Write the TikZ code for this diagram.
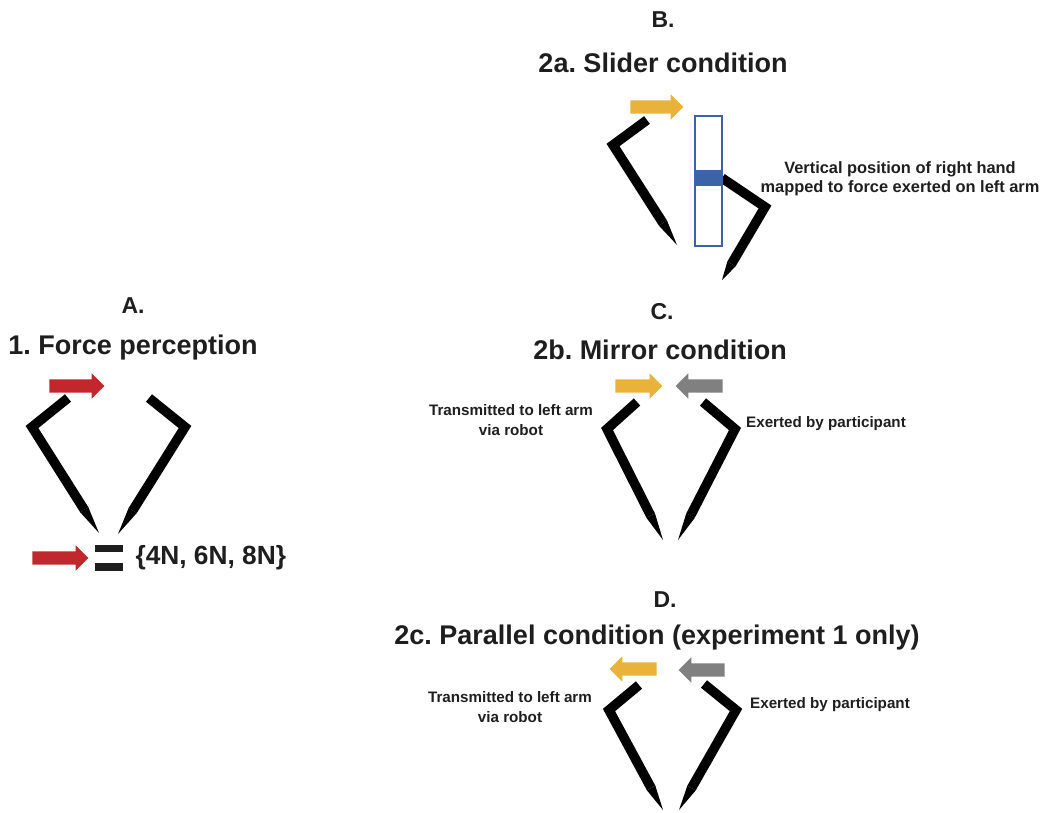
\documentclass[tikz,border=0pt]{standalone}
\usepackage{fontspec}
\setmainfont{Liberation Sans}
\usepackage{tikz}
\usetikzlibrary{calc,shapes.arrows}
\frenchspacing

\definecolor{pushred}{HTML}{C1272D}
\definecolor{pushyellow}{HTML}{E9B23A}
\definecolor{pushgray}{HTML}{808080}
\definecolor{sliderblue}{HTML}{3A64A8}
\definecolor{inkgray}{HTML}{1E1E1E}

% arm: top end, elbow, tapered tip
\newcommand{\drawarm}[3]{%
  \draw[armline] #1 -- #2 -- ($#2!0.78!#3$);
  \coordinate (armtaper) at ($#2!0.78!#3$);
  \fill ($(armtaper)!4.8pt!90:#3$) -- #3 -- ($(armtaper)!4.8pt!-90:#3$) -- cycle;}

\begin{document}
\begin{tikzpicture}[x=1pt,y=-1pt,
    armline/.style={line width=9.6pt,line join=miter},
    push/.style={single arrow,fill=#1,draw=none,inner xsep=0pt,inner ysep=6.5pt,
      single arrow head extend=6pt,minimum height=50pt},
    pull/.style={push=#1,shape border rotate=180},
    panel/.style={font=\fontsize{23}{27}\selectfont\bfseries,text=inkgray},
    heading/.style={font=\fontsize{27}{31}\selectfont\bfseries,text=inkgray},
    note/.style={font=\fontsize{15.2}{19.5}\selectfont\bfseries,text=inkgray,align=center}]
  \useasboundingbox (0,0) rectangle (1046,812);

  % A. force perception
  \node[panel] (labA) at (133,306) {A.};
  \node[heading] (ttlA) at (133,348) {1. Force perception};
  \node[push=pushred,minimum height=55pt] (fA) at (73.5,386) {};
  \drawarm{(68,398)}{(32,427)}{(99,533)}
  \drawarm{(149,398)}{(185,427)}{(118,534)}
  \node[push=pushred,minimum height=56pt] (refA) at (57,558) {};
  \fill[inkgray] (95,545) rectangle (123,552);
  \fill[inkgray] (95,563) rectangle (123,571);
  \node[heading,font=\fontsize{26.3}{30}\selectfont\bfseries,anchor=west] (valA) at (132,558) {\{4N, 6N, 8N\}};

  % B. slider
  \node[panel] (labB) at (663,20) {B.};
  \node[heading] (ttlB) at (663,63) {2a. Slider condition};
  \node[push=pushyellow,minimum height=53pt] (fB) at (653.5,107) {};
  \drawarm{(647,120)}{(613,145)}{(677,245)}
  \drawarm{(722,178)}{(765,207)}{(722,280)}
  \draw[sliderblue,line width=1.2pt,fill=white] (695,116) rectangle (722,246);
  \fill[sliderblue] (695,170) rectangle (722,186);
  \node[note,font=\fontsize{16.4}{19}\selectfont\bfseries] (txB) at (900,179)
    {Vertical position of right hand\\mapped to force exerted on left arm};

  % C. mirror
  \node[panel] (labC) at (662,312) {C.};
  \node[heading] (ttlC) at (660,350) {2b. Mirror condition};
  \node[push=pushyellow,minimum height=47pt] (fC) at (635.5,386) {};
  \node[pull=pushgray,minimum height=47pt] (gC) at (702.5,386) {};
  \drawarm{(637,402)}{(607,429)}{(663,540)}
  \drawarm{(703,402)}{(735,429)}{(678,540)}
  \node[note] (txC) at (511,420) {Transmitted to left arm\\via robot};
  \node[note] (exC) at (826,424) {Exerted by participant};

  % D. parallel
  \node[panel] (labD) at (665,600) {D.};
  \node[heading] (ttlD) at (657,638) {2c. Parallel condition (experiment 1 only)};
  \node[pull=pushyellow,minimum height=47pt] (fD) at (636.5,669) {};
  \node[pull=pushgray,minimum height=46pt] (gD) at (705,670) {};
  \drawarm{(639,685)}{(609,710)}{(663,810)}
  \drawarm{(704,684)}{(736,710)}{(679,810)}
  \node[note] (txD) at (510,707) {Transmitted to left arm\\via robot};
  \node[note] (exD) at (830,705) {Exerted by participant};
\end{tikzpicture}
\end{document}
